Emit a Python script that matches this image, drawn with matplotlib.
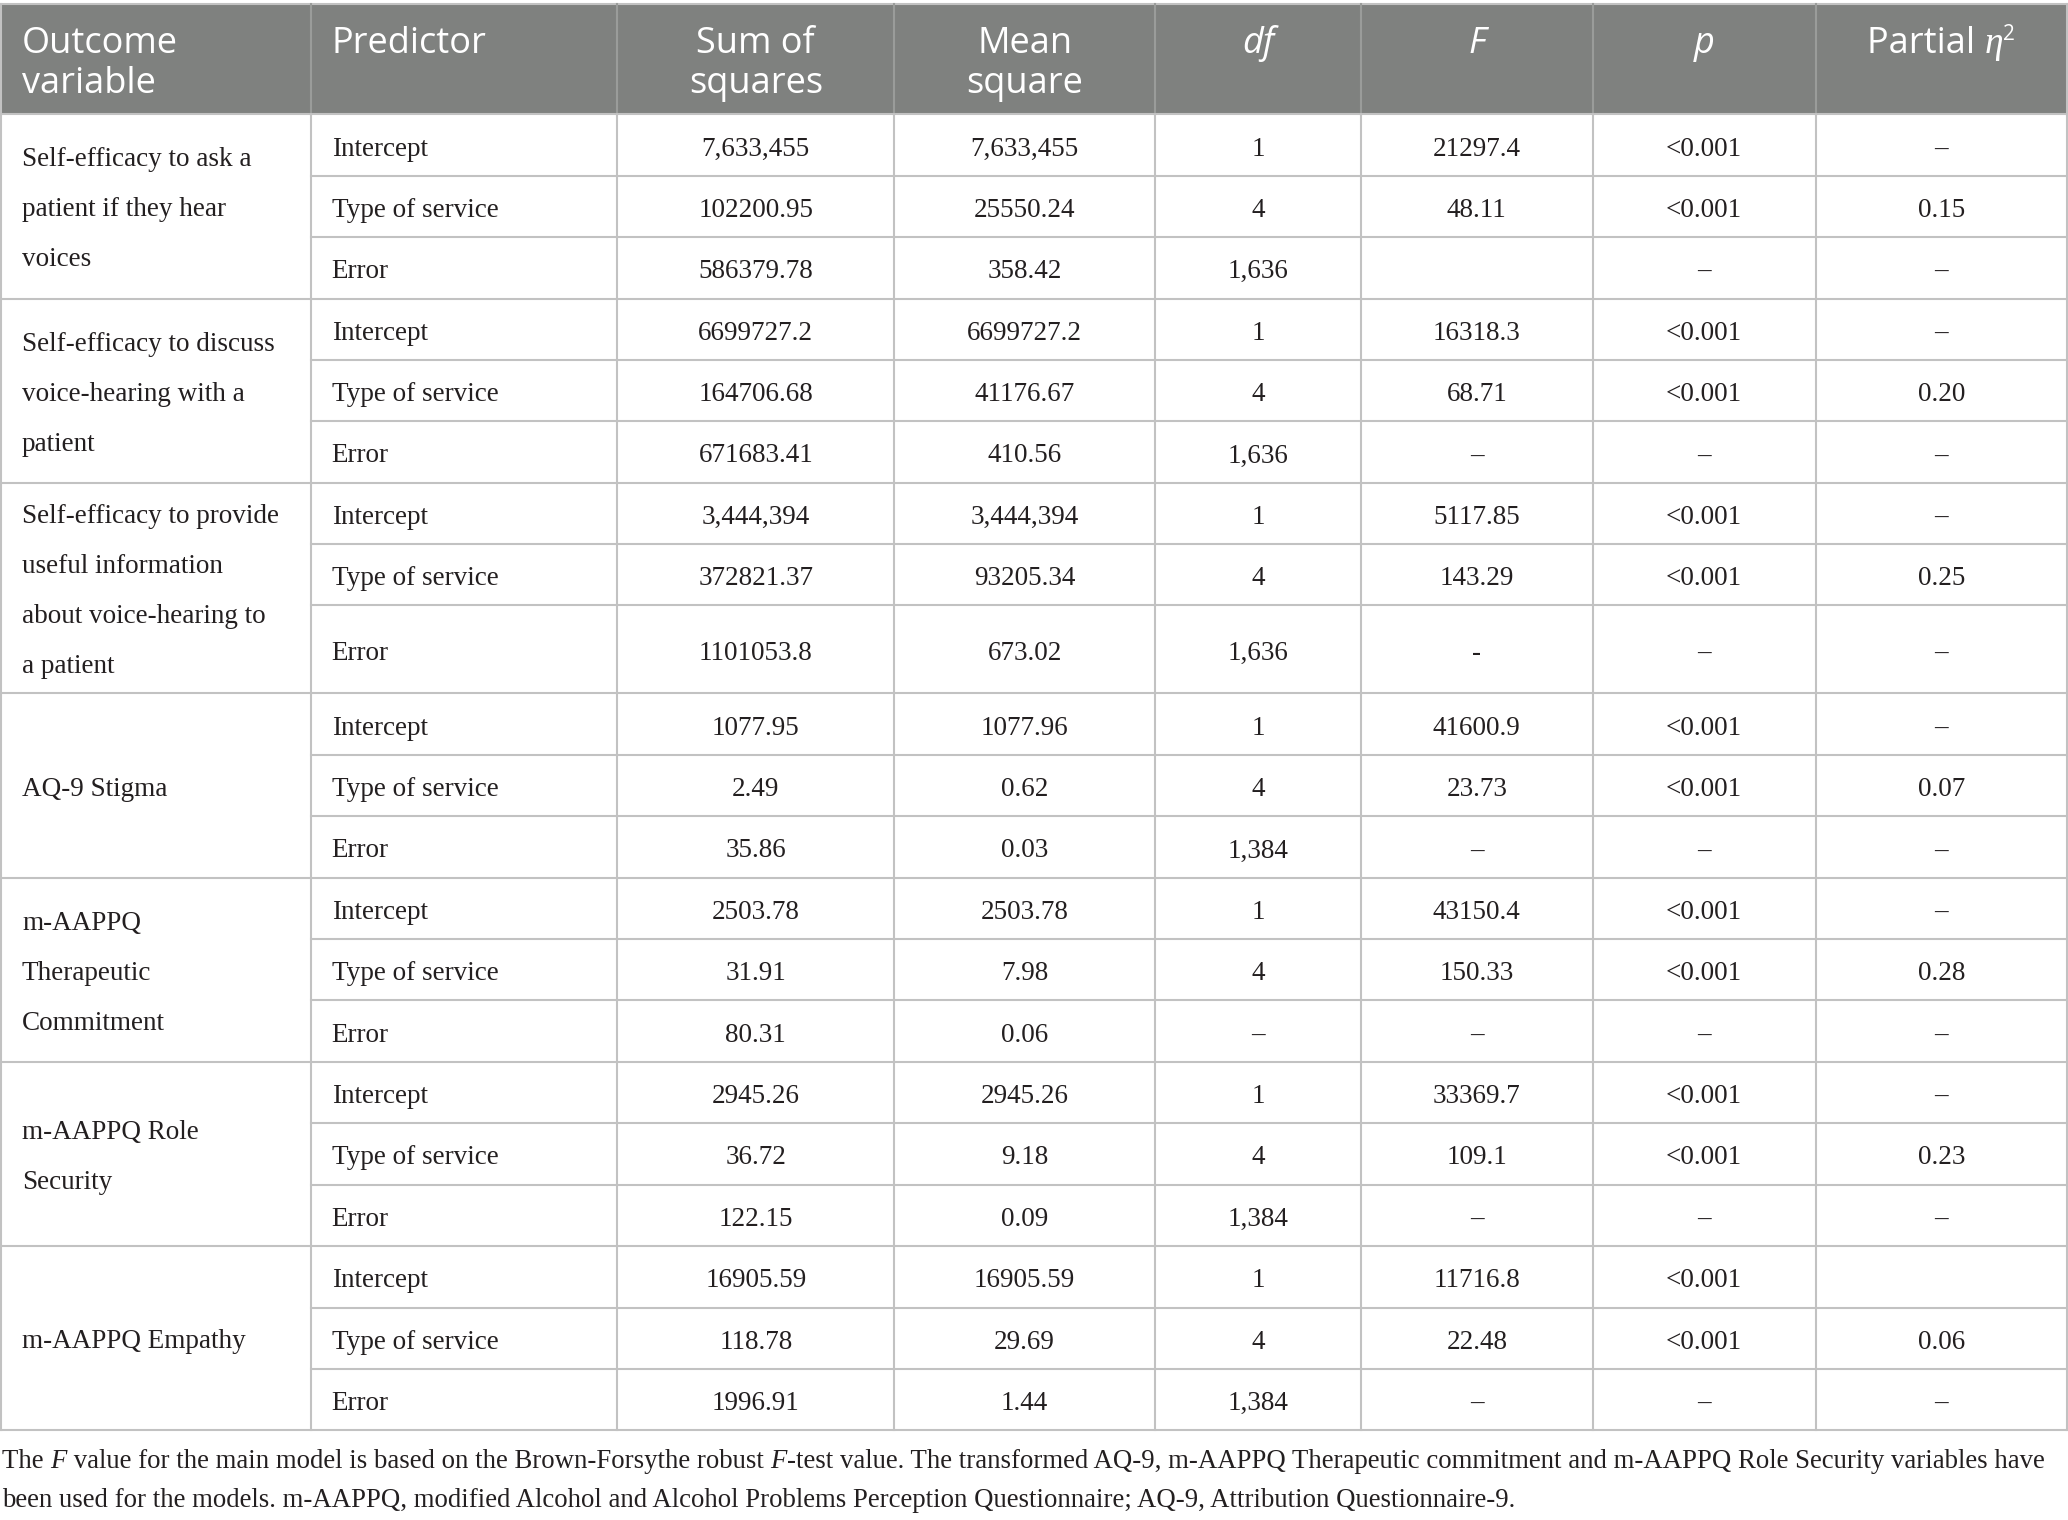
import matplotlib
matplotlib.use("Agg")
import matplotlib.pyplot as plt
from matplotlib.font_manager import FontProperties

# ---------------- data ----------------
outcomes = [
    "Self-efficacy to ask a\npatient if they hear\nvoices",
    "Self-efficacy to discuss\nvoice-hearing with a\npatient",
    "Self-efficacy to provide\nuseful information\nabout voice-hearing to\na patient",
    "AQ-9 Stigma",
    "m-AAPPQ\nTherapeutic\nCommitment",
    "m-AAPPQ Role\nSecurity",
    "m-AAPPQ Empathy",
]
predictors = ["Intercept", "Type of service", "Error"]

sum_sq = ["7,633,455", "102200.95", "586379.78",
          "6699727.2", "164706.68", "671683.41",
          "3,444,394", "372821.37", "1101053.8",
          "1077.95", "2.49", "35.86",
          "2503.78", "31.91", "80.31",
          "2945.26", "36.72", "122.15",
          "16905.59", "118.78", "1996.91"]
mean_sq = ["7,633,455", "25550.24", "358.42",
           "6699727.2", "41176.67", "410.56",
           "3,444,394", "93205.34", "673.02",
           "1077.96", "0.62", "0.03",
           "2503.78", "7.98", "0.06",
           "2945.26", "9.18", "0.09",
           "16905.59", "29.69", "1.44"]
df_vals = ["1", "4", "1,636",
           "1", "4", "1,636",
           "1", "4", "1,636",
           "1", "4", "1,384",
           "1", "4", "\u2013",
           "1", "4", "1,384",
           "1", "4", "1,384"]
f_vals = ["21297.4", "48.11", "",
          "16318.3", "68.71", "\u2013",
          "5117.85", "143.29", "-",
          "41600.9", "23.73", "\u2013",
          "43150.4", "150.33", "\u2013",
          "33369.7", "109.1", "\u2013",
          "11716.8", "22.48", "\u2013"]
p_vals = ["<0.001", "<0.001", "\u2013",
          "<0.001", "<0.001", "\u2013",
          "<0.001", "<0.001", "\u2013",
          "<0.001", "<0.001", "\u2013",
          "<0.001", "<0.001", "\u2013",
          "<0.001", "<0.001", "\u2013",
          "<0.001", "<0.001", "\u2013"]
eta_vals = ["\u2013", "0.15", "\u2013",
            "\u2013", "0.20", "\u2013",
            "\u2013", "0.25", "\u2013",
            "\u2013", "0.07", "\u2013",
            "\u2013", "0.28", "\u2013",
            "\u2013", "0.23", "\u2013",
            "", "0.06", "\u2013"]

header_plain = [["Outcome", "variable"], ["Predictor"], ["Sum of", "squares"],
                ["Mean", "square"]]
header_italic = ["df", "F", "p"]

footnote_1 = ["The ", "F", " value for the main model is based on the Brown-Forsythe robust ",
              "F", "-test value. The transformed AQ-9, m-AAPPQ Therapeutic commitment "
              "and m-AAPPQ Role Security variables have"]
footnote_2 = ("been used for the models. m-AAPPQ, modified Alcohol and Alcohol Problems "
              "Perception Questionnaire; AQ-9, Attribution Questionnaire-9.")

# ---------------- layout ----------------
W, H = 2068, 1520
col_edges = [1, 310.7, 617.3, 894.3, 1155, 1361, 1592.5, 1815.5, 2067]
header_top, header_bot = 4, 114.3
row_h = 61.4
tall_row = 88.0
HEADER_BG = "#7f817f"
LINE_C = "#c2c2c2"
TEXT_C = "#231f20"
LW = 1.5

serif = FontProperties(family="Liberation Serif", size=19.5)
foot = FontProperties(family="Liberation Serif", size=19.25)
foot_it = FontProperties(family="Liberation Serif", style="italic", size=19.25)
sans_h = FontProperties(family="Open Sans", size=26)
sans_h_it = FontProperties(family="Open Sans", style="italic", size=26)
eta_fp = FontProperties(family="Liberation Serif", style="italic", size=27)
sup_fp = FontProperties(family="Open Sans", size=15)

fig = plt.figure(figsize=(W / 100, H / 100), dpi=100)
ax = fig.add_axes([0, 0, 1, 1])
ax.set_xlim(0, W)
ax.set_ylim(H, 0)
ax.axis("off")
fig.canvas.draw()
renderer = fig.canvas.get_renderer()


def width(s, fp):
    t1 = ax.text(0, 0, "x" + s + "x", fontproperties=fp)
    t2 = ax.text(0, 0, "xx", fontproperties=fp)
    w = t1.get_window_extent(renderer).width - t2.get_window_extent(renderer).width
    t1.remove()
    t2.remove()
    return w


def draw_runs(x, y, runs, ha="left", color=TEXT_C):
    ws = [width(s, fp) for s, fp, _ in runs]
    total = sum(ws)
    if ha == "center":
        x = x - total / 2
    for (s, fp, dy), w in zip(runs, ws):
        ax.text(x, y - dy, s, fontproperties=fp, color=color, ha="left", va="baseline")
        x += w


# row edges
heights = []
for g in range(len(outcomes)):
    for r in range(3):
        heights.append(tall_row if (g == 2 and r == 2) else row_h)
row_edges = [header_bot]
for h in heights:
    row_edges.append(row_edges[-1] + h)
table_bot = row_edges[-1]

# header background
ax.fill_between([col_edges[0], col_edges[-1]], header_top, header_bot,
                color=HEADER_BG, lw=0, zorder=0)

# header texts
pad = 21
hb1, hb2 = 53.3, 93.3
for ci, lines in enumerate(header_plain):
    for li, s in enumerate(lines):
        yb = hb1 if li == 0 else hb2
        if ci < 2:
            ax.text(col_edges[ci] + pad, yb, s, fontproperties=sans_h, color="white",
                    ha="left", va="baseline")
        else:
            cx = (col_edges[ci] + col_edges[ci + 1]) / 2
            ax.text(cx, yb, s, fontproperties=sans_h, color="white",
                    ha="center", va="baseline")
for k, s in enumerate(header_italic):
    ci = 4 + k
    cx = (col_edges[ci] + col_edges[ci + 1]) / 2
    ax.text(cx, hb1, s, fontproperties=sans_h_it, color="white", ha="center", va="baseline")
cx = (col_edges[7] + col_edges[8]) / 2
draw_runs(cx, hb1, [("Partial ", sans_h, 0), ("\u03b7", eta_fp, 0), ("2", sup_fp, 13)],
          ha="center", color="white")

# body
columns = [sum_sq, mean_sq, df_vals, f_vals, p_vals, eta_vals]
for g, label in enumerate(outcomes):
    top = row_edges[3 * g]
    bot = row_edges[3 * g + 3]
    cen = (top + bot) / 2
    lines = label.split("\n")
    n = len(lines)
    for i, s in enumerate(lines):
        yb = cen + 10 + (i - (n - 1) / 2) * 50
        ax.text(col_edges[0] + pad, yb, s, fontproperties=serif, color=TEXT_C,
                ha="left", va="baseline")
    for r in range(3):
        idx = 3 * g + r
        rc = (row_edges[idx] + row_edges[idx + 1]) / 2 + 10.5
        ax.text(col_edges[1] + pad, rc, predictors[r], fontproperties=serif, color=TEXT_C,
                ha="left", va="baseline")
        for k, col in enumerate(columns):
            cx = (col_edges[2 + k] + col_edges[3 + k]) / 2
            ax.text(cx, rc, col[idx], fontproperties=serif, color=TEXT_C,
                    ha="center", va="baseline")

# grid lines
ax.plot([col_edges[0], col_edges[-1]], [header_top, header_top], color=LINE_C, lw=LW)
ax.plot([col_edges[0], col_edges[-1]], [header_bot, header_bot], color=LINE_C, lw=LW)
for i in range(1, len(row_edges)):
    y = row_edges[i]
    x0 = col_edges[0] if i % 3 == 0 else col_edges[1]
    ax.plot([x0, col_edges[-1]], [y, y], color=LINE_C, lw=LW)
for x in col_edges:
    ax.plot([x, x], [header_top, header_bot],
            color="#9a9c9a" if x not in (col_edges[0], col_edges[-1]) else LINE_C, lw=LW)
    ax.plot([x, x], [header_bot, table_bot], color=LINE_C, lw=LW)

# footnote
fn_runs = [(s, foot_it if s == "F" else foot, 0) for s in footnote_1]
draw_runs(2, 1468, fn_runs)
ax.text(2, 1506.7, footnote_2, fontproperties=foot, color=TEXT_C, ha="left", va="baseline")

fig.savefig("out.png", dpi=100, facecolor="white")
